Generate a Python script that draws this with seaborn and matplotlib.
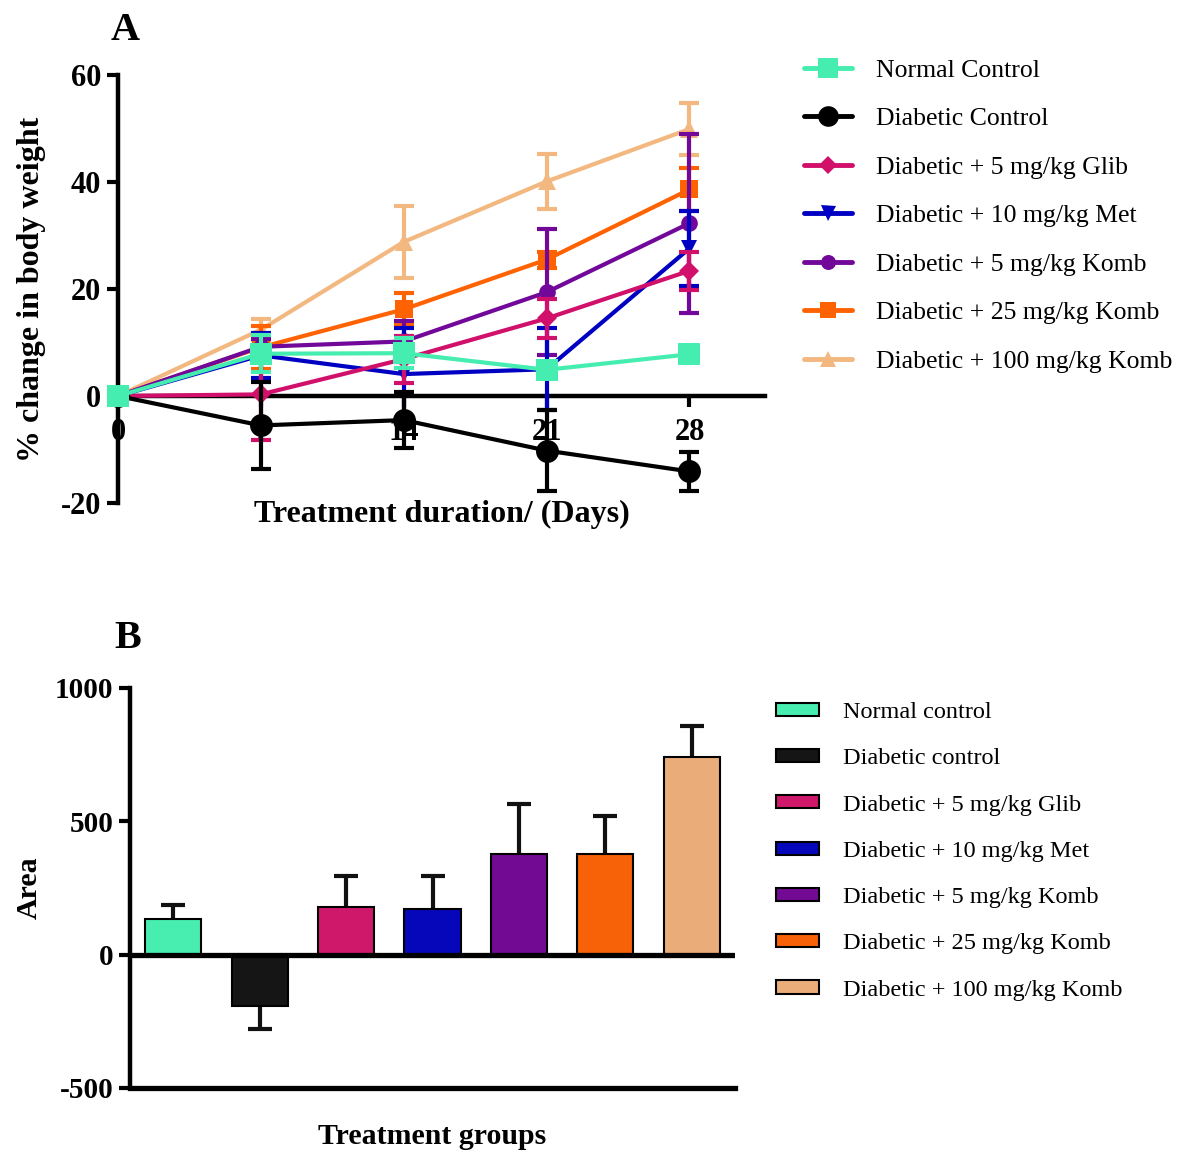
import numpy as np
import matplotlib
matplotlib.use("Agg")
import matplotlib.pyplot as plt
from matplotlib.lines import Line2D
from matplotlib.patches import Patch
import seaborn as sns

# ---- Panel A: % change in body weight over the treatment period ----
days = [0, 7, 14, 21, 28]

line_labels = [
    "Normal Control",
    "Diabetic Control",
    "Diabetic + 5 mg/kg Glib",
    "Diabetic + 10 mg/kg Met",
    "Diabetic + 5 mg/kg Komb",
    "Diabetic + 25 mg/kg Komb",
    "Diabetic + 100 mg/kg Komb",
]

normal_ctrl = [0, 7.9, 8.0, 4.9, 7.8]
normal_ctrl_sem = [0, 3.5, 2.8, 1.5, 1.5]
diabetic_ctrl = [0, -5.5, -4.5, -10.2, -14.1]
diabetic_ctrl_sem = [0, 8.2, 5.2, 7.5, 3.6]
glib_5 = [0, 0.3, 6.9, 14.5, 23.4]
glib_5_sem = [0, 8.5, 4.4, 3.6, 3.6]
met_10 = [0, 7.6, 4.1, 5.0, 27.6]
met_10_sem = [0, 4.2, 8.6, 7.7, 7.0]
komb_5 = [0, 9.2, 10.2, 19.4, 32.3]
komb_5_sem = [0, 1.5, 3.9, 11.8, 16.7]
komb_25 = [0, 9.1, 16.2, 25.5, 38.6]
komb_25_sem = [0, 4.0, 3.0, 1.5, 4.1]
komb_100 = [0, 12.4, 28.8, 40.1, 49.9]
komb_100_sem = [0, 2.0, 6.7, 5.1, 4.8]

# ---- Panel B: area under the body-weight curve ----
bar_labels = [
    "Normal control",
    "Diabetic control",
    "Diabetic + 5 mg/kg Glib",
    "Diabetic + 10 mg/kg Met",
    "Diabetic + 5 mg/kg Komb",
    "Diabetic + 25 mg/kg Komb",
    "Diabetic + 100 mg/kg Komb",
]
area_values = [134, -191, 179, 172, 379, 379, 741]
area_sem = [53, 88, 115, 122, 187, 142, 118]

line_colors = ["#45EEB0", "#000000", "#D0106A", "#0000C2",
               "#72089A", "#FF6200", "#F2B880"]
bar_colors = ["#48EEB0", "#151515", "#D0186A", "#0606BB",
              "#720A94", "#F76208", "#EAAD7A"]
markers = ["s", "o", "D", "v", "o", "s", "^"]
marker_sizes = [16.5, 16.5, 10, 12, 12, 13.5, 13]

sns.set_theme(style="ticks")
plt.rcParams["font.family"] = ["Liberation Serif", "DejaVu Serif"]
plt.rcParams.update({
    "axes.linewidth": 3,
    "axes.unicode_minus": False,
    "text.color": "black",
    "axes.labelcolor": "black",
    "axes.edgecolor": "black",
    "xtick.color": "black",
    "ytick.color": "black",
})

fig = plt.figure(figsize=(11.8, 11.5), dpi=100)

# ================= Panel A =================
axA = fig.add_axes([118 / 1180, 1 - 503 / 1150, (765 - 118) / 1180, (503 - 75) / 1150])

series = [normal_ctrl, diabetic_ctrl, glib_5, met_10, komb_5, komb_25, komb_100]
series_sem = [normal_ctrl_sem, diabetic_ctrl_sem, glib_5_sem, met_10_sem,
              komb_5_sem, komb_25_sem, komb_100_sem]

x_days = np.array(days)
for k in reversed(range(len(series))):
    z = 3 + (len(series) - k) * 2
    y = np.array(series[k], dtype=float)
    e = np.array(series_sem[k], dtype=float)
    m = e > 0
    eb = axA.errorbar(x_days[m], y[m], yerr=e[m], fmt="none",
                      ecolor=line_colors[k], elinewidth=3, capsize=7,
                      capthick=3, zorder=z)
    for art in list(eb[1]) + list(eb[2]):
        art.set_clip_on(False)
    sns.lineplot(x=days, y=series[k], color=line_colors[k], marker=markers[k],
                 markersize=marker_sizes[k], markeredgewidth=0, linewidth=3,
                 errorbar=None, legend=False, ax=axA, zorder=z + 1, clip_on=False)

axA.set_xlim(0, 31.7)
axA.set_ylim(-20, 60)
axA.set_xticks(days)
axA.set_xticklabels([str(d) for d in days])
axA.set_yticks([-20, 0, 20, 40, 60])
axA.spines["bottom"].set_position(("data", 0))
axA.spines["top"].set_visible(False)
axA.spines["right"].set_visible(False)
axA.spines["left"].set_linewidth(3.2)
axA.spines["bottom"].set_linewidth(3.2)
axA.tick_params(axis="both", width=3, length=8, labelsize=22, direction="out")
axA.tick_params(axis="x", pad=8)
axA.tick_params(axis="y", pad=4)
for t in axA.get_xticklabels() + axA.get_yticklabels():
    t.set_fontweight("bold")
axA.set_xlabel("Treatment duration/ (Days)", fontsize=23, fontweight="bold")
axA.xaxis.set_label_coords(0.5, 0.007)
axA.set_ylabel("% change in body weight", fontsize=23, fontweight="bold")
axA.yaxis.set_label_coords(-0.112, 0.5)

handles_A = [Line2D([0], [0], color=c, lw=3.5, marker=mk, markersize=ms * 0.9,
                    markeredgewidth=0)
             for c, mk, ms in zip(line_colors, markers, marker_sizes)]
axA.legend(handles_A, line_labels, loc="upper left",
           bbox_to_anchor=(804 / 1180, 1 - 59 / 1150), bbox_transform=fig.transFigure,
           frameon=False, fontsize=18.5, handlelength=1.85, handletextpad=0.95,
           labelspacing=0.99, borderpad=0, borderaxespad=0)

fig.text(125 / 1180, 1 - 31 / 1150, "A", fontsize=29, fontweight="bold",
         ha="center", va="center")

# ================= Panel B =================
axB = fig.add_axes([130 / 1180, 1 - 1088 / 1150, (735 - 130) / 1180, (1088 - 688) / 1150])

sns.barplot(x=bar_labels, y=area_values, hue=bar_labels, palette=bar_colors,
            legend=False, width=0.65, edgecolor="black", linewidth=1.5,
            errorbar=None, saturation=1, ax=axB, zorder=3)

pos = np.arange(len(bar_labels))
vals = np.array(area_values, dtype=float)
sem = np.array(area_sem, dtype=float)
lower = np.where(vals < 0, sem, 0)
upper = np.where(vals >= 0, sem, 0)
eb = axB.errorbar(pos, vals, yerr=[lower, upper], fmt="none", ecolor="#111111",
                  elinewidth=3, capsize=8.5, capthick=3, zorder=2)
low_caps, up_caps = eb[1]
low_caps.set_markevery([i for i in pos if vals[i] < 0])
up_caps.set_markevery([i for i in pos if vals[i] >= 0])

axB.axhline(0, color="black", lw=3.8, zorder=4)
axB.set_xlim(-0.5, 6.5)
axB.set_ylim(-500, 1000)
axB.set_yticks([-500, 0, 500, 1000])
axB.set_xticks([])
axB.spines["top"].set_visible(False)
axB.spines["right"].set_visible(False)
axB.spines["left"].set_linewidth(3.2)
axB.spines["bottom"].set_linewidth(3.8)
axB.tick_params(axis="y", width=3, length=8, labelsize=21, pad=4)
for t in axB.get_yticklabels():
    t.set_fontweight("bold")
axB.set_xlabel("Treatment groups", fontsize=21.5, fontweight="bold")
axB.xaxis.set_label_coords(0.5, -0.088)
axB.set_ylabel("Area", fontsize=21.5, fontweight="bold")
axB.yaxis.set_label_coords(-0.145, 0.5)

handles_B = [Patch(facecolor=c, edgecolor="black", linewidth=1.5) for c in bar_colors]
axB.legend(handles_B, bar_labels, loc="upper left",
           bbox_to_anchor=(776 / 1180, 1 - 702 / 1150), bbox_transform=fig.transFigure,
           frameon=False, fontsize=17.5, handlelength=1.75, handleheight=0.45,
           handletextpad=1.0, labelspacing=1.04, borderpad=0, borderaxespad=0)

fig.text(128 / 1180, 1 - 638 / 1150, "B", fontsize=29, fontweight="bold",
         ha="center", va="center")

fig.savefig("out.png", dpi=100, facecolor="white")
